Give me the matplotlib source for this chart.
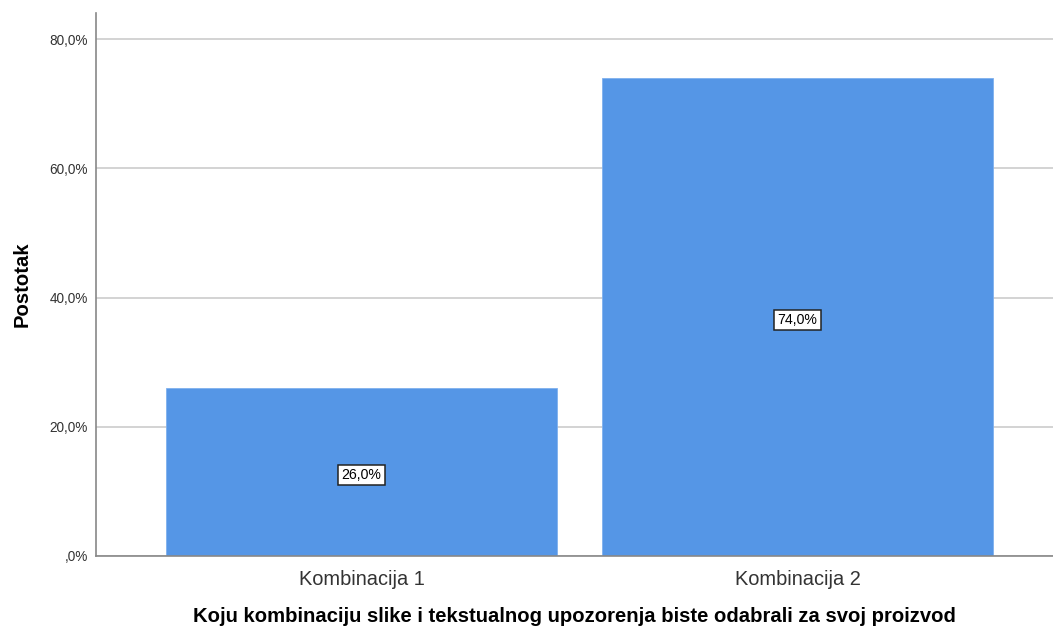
import matplotlib.pyplot as plt
from matplotlib.ticker import FuncFormatter

plt.rcParams['font.family'] = ['Liberation Sans', 'DejaVu Sans']

categories = ['Kombinacija 1', 'Kombinacija 2']
values = [26.0, 74.0]
y_ticks = [0, 20, 40, 60, 80]


def pct(v, pos=None):
    s = '%.1f%%' % v
    s = s.replace('.', ',')
    if s.startswith('0,'):
        s = s[1:]
    return s


fig = plt.figure(figsize=(10.53, 6.3), dpi=100)
ax = fig.add_axes([0.0912, 0.1175, 0.9088, 0.8615])

ax.bar(range(len(categories)), values, width=0.897, color='#5596E6',
       edgecolor='#7FB0EE', linewidth=0.6, zorder=2)

for i, v in enumerate(values):
    ax.text(i, v / 2 - 0.5, pct(v), ha='center', va='center', fontsize=10.2,
            color='black', zorder=3,
            bbox=dict(boxstyle='square,pad=0.22', fc='white', ec='#222222', lw=1.1))

ax.set_xlim(-0.609, 1.586)
ax.set_ylim(0, 84)
ax.set_yticks(y_ticks)
ax.yaxis.set_major_formatter(FuncFormatter(pct))
ax.set_xticks(range(len(categories)))
ax.set_xticklabels(categories, fontsize=14.4, color='#333333')
ax.tick_params(axis='y', length=0, labelsize=9.8, labelcolor='#333333', pad=6)
ax.tick_params(axis='x', length=0, pad=10)
ax.yaxis.grid(True, color='#CCCCCC', linewidth=1.2, zorder=0)
ax.set_axisbelow(True)

for s in ['top', 'right']:
    ax.spines[s].set_visible(False)
for s in ['left', 'bottom']:
    ax.spines[s].set_color('#888888')
    ax.spines[s].set_linewidth(1.2)

ax.set_ylabel('Postotak', fontsize=14.6, fontweight='bold', labelpad=13)
ax.set_xlabel('Koju kombinaciju slike i tekstualnog upozorenja biste odabrali za svoj proizvod',
              fontsize=14.6, fontweight='bold', labelpad=13)

plt.savefig('out.png', dpi=100)
